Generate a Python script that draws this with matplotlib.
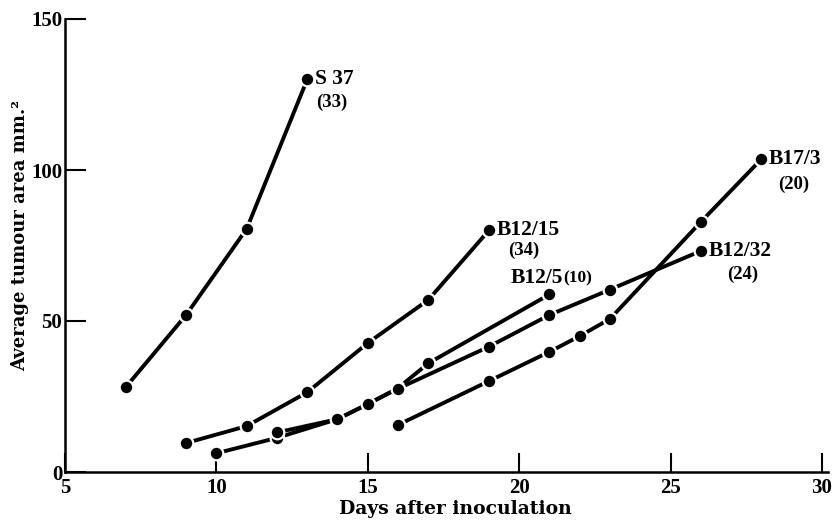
import matplotlib
matplotlib.use("Agg")
import matplotlib.pyplot as plt

# ---- data ----
s37_days = [7, 9, 11, 13]
s37_area = [28, 52, 80.5, 130]

b12_15_days = [9, 11, 13, 15, 17, 19]
b12_15_area = [9.6, 15.2, 26.4, 42.7, 57, 80]

b12_5_days = [10, 12, 14, 15, 16, 17, 21]
b12_5_area = [6.2, 11.3, 17.5, 22.5, 27.8, 36, 58.8]

b12_32_days = [12, 14, 15, 16, 19, 21, 23, 26]
b12_32_area = [13.1, 17.5, 22.5, 27.6, 41.5, 52, 60.4, 73.2]

b17_3_days = [16, 19, 21, 22, 23, 26, 28]
b17_3_area = [15.6, 30.1, 39.8, 45, 50.7, 82.8, 103.6]

x_ticks = [5, 10, 15, 20, 25, 30]
x_tick_labels = ["5", "10", "15", "20", "25", "30"]
y_ticks = [0, 50, 100, 150]
y_tick_labels = ["0", "50", "100", "150"]

W, H = 837, 523
fig = plt.figure(figsize=(W / 100, H / 100), dpi=100)
ax = fig.add_axes([65 / W, 1 - 472 / H, (828 - 65) / W, (472 - 19) / H])

num_font = dict(family="Liberation Serif", weight="bold")
lab_font = dict(family="DejaVu Serif", weight="bold")

line_kw = dict(color="black", lw=2.8, marker="o", ms=9.8,
               mfc="black", mec="white", mew=1.6, solid_capstyle="butt",
               clip_on=False)

series = [
    (s37_days, s37_area),
    (b12_15_days, b12_15_area),
    (b12_5_days, b12_5_area),
    (b12_32_days, b12_32_area),
    (b17_3_days, b17_3_area),
]
for d, a in series:
    ax.plot(d, a, **line_kw)

ax.set_xlim(5, 30.2)
ax.set_ylim(0, 150)

for s in ["top", "right"]:
    ax.spines[s].set_visible(False)
for s in ["left", "bottom"]:
    ax.spines[s].set_linewidth(1.8)

ax.set_xticks(x_ticks)
ax.set_xticklabels(x_tick_labels, fontsize=15, **num_font)
ax.set_yticks(y_ticks)
ax.set_yticklabels(y_tick_labels, fontsize=15, **num_font)
ax.tick_params(axis="x", direction="in", length=14, width=1.5, pad=4)
ax.tick_params(axis="y", direction="in", length=15, width=1.5, pad=2)

ax.set_xlabel("Days after inoculation", fontsize=13.5, va="center", **lab_font)
ax.xaxis.set_label_coords((455 - 65) / 763, -(509 - 472) / 453)
ax.set_ylabel("Average tumour area mm.\u00b2", fontsize=13, va="center", **lab_font)
ax.yaxis.set_label_coords((20 - 65) / 763, (472 - 235) / 453)

name_fs = 15.5
cnt_fs = 13.5

def label(x, y, name, count, cdx, cdy):
    ax.annotate(name, (x, y), xytext=(5.5, 0), textcoords="offset points",
                ha="left", va="center", fontsize=name_fs, **num_font)
    ax.annotate(count, (x, y), xytext=(cdx, cdy), textcoords="offset points",
                ha="center", va="center", fontsize=cnt_fs, **num_font)

label(s37_days[-1], s37_area[-1], "S 37", "(33)", 18, -16.5)
label(b12_15_days[-1], b12_15_area[-1], "B12/15", "(34)", 25, -14.5)
label(b17_3_days[-1], b17_3_area[-1], "B17/3", "(20)", 23, -18)
label(b12_32_days[-1], b12_32_area[-1], "B12/32", "(24)", 30, -17)

ax.annotate("B12/5", (b12_5_days[-1], b12_5_area[-1]), xytext=(10, 11.5),
            textcoords="offset points", ha="right", va="center",
            fontsize=name_fs, **num_font)
ax.annotate("(10)", (b12_5_days[-1], b12_5_area[-1]), xytext=(10, 11.5),
            textcoords="offset points", ha="left", va="center",
            fontsize=12.5, **num_font)

fig.savefig("out.png", dpi=100)
